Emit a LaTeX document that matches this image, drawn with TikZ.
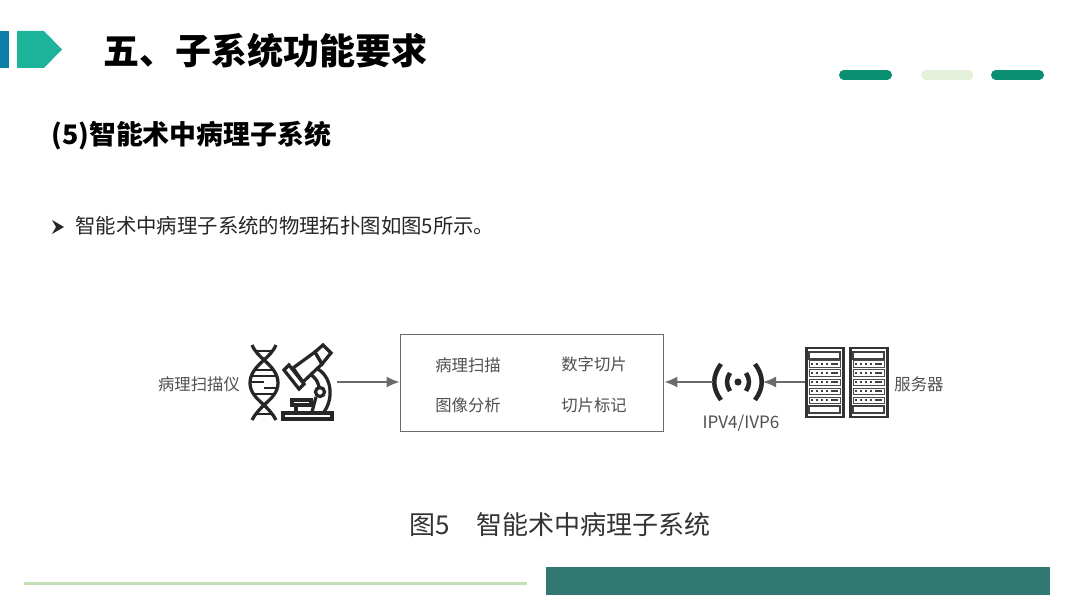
\documentclass[tikz,border=0pt]{standalone}
\usepackage{fontspec}
\setmainfont{Noto Sans CJK SC}
\usepackage{xcolor}
\usetikzlibrary{arrows.meta, positioning}
\definecolor{barblue}{HTML}{0B7FA6}
\definecolor{barteal}{HTML}{1DB39B}
\definecolor{pillgreen}{HTML}{0A9070}
\definecolor{pilllight}{HTML}{E4F0DA}
\definecolor{footline}{HTML}{C5DFB5}
\definecolor{footbar}{HTML}{317872}
\definecolor{figgray}{HTML}{505050}
\definecolor{linegray}{HTML}{6A6A6A}
\tikzstyle{label} = [text=figgray, font=\fontsize{9.3pt}{12pt}\selectfont, inner sep=0pt]
\tikzstyle{pill} = [line width=0.19cm, line cap=round]
\tikzstyle{icon} = [draw=black!85, line width=0.065cm]
\tikzstyle{rack} = [draw=black!80, line width=0.06cm, fill=white]
\tikzstyle{link} = [-{Latex[length=0.26cm,width=0.22cm]}, linegray, line width=0.036cm]
\begin{document}
\begin{tikzpicture}[x=0.02cm, y=-0.02cm]
    % page
    \useasboundingbox (0,0) rectangle (1080,608);
    \fill [white] (0,0) rectangle (1080,608);

    % header marks
    \fill [barblue] (0,31) rectangle (9,68);
    \fill [barteal] (17,31) -- (44,31) -- (62,49.5) -- (44,68) -- (17,68) -- cycle;
    \draw [pill, pillgreen] (843.75,75) -- (887.25,75);
    \draw [pill, pilllight] (925.75,75) -- (968.5,75);
    \draw [pill, pillgreen] (995.75,75) -- (1039.25,75);

    % headings
    \node [anchor=west, inner sep=0pt, font=\fontsize{20.5pt}{24pt}\selectfont\bfseries] (title) at (103,51) {五、子系统功能要求};
    \node [anchor=west, inner sep=0pt, font=\fontsize{15.3pt}{18pt}\selectfont\bfseries] (subtitle) at (51,136) {(5)智能术中病理子系统};
    \node [anchor=west, inner sep=0pt, font=\fontsize{11.6pt}{14pt}\selectfont, text=black!85] (bullet) at (75,226) {智能术中病理子系统的物理拓扑图如图5所示。};
    \fill [black!85] (52,220) -- (64,227) -- (52,234) -- (56,227) -- cycle;

    % main box
    \node [draw=linegray, line width=0.036cm, minimum width=5.26cm, minimum height=1.94cm, inner sep=0pt] (core) at (532,383) {};
    \node [label] (scan) at (468,365) {病理扫描};
    \node [label] (slice) at (594,364) {数字切片};
    \node [label] (analysis) at (468,405) {图像分析};
    \node [label] (mark) at (594,405) {切片标记};

    % side labels
    \node [label] (scanner) at (199,384) {病理扫描仪};
    \node [label] (server) at (919,384) {服务器};
    \node [label, font=\fontsize{9.7pt}{12pt}\selectfont] (proto) at (741,423) {IPV4/IVP6};
    \node [font=\fontsize{14.8pt}{18pt}\selectfont, text=black!80, inner sep=0pt] (caption) at (560,525) {图5\hspace{0.52cm}智能术中病理子系统};

    % dna
    \begin{scope}[icon]
        \draw (252,345) .. controls (255,352) and (260,356) .. (264,360) .. controls (272,367) and (278,374) .. (278,383) .. controls (278,392) and (272,398) .. (264,405) .. controls (260,409) and (255,414) .. (252,420);
        \draw (276,345) .. controls (273,352) and (268,356) .. (264,360) .. controls (256,367) and (250,374) .. (250,383) .. controls (250,392) and (256,398) .. (264,405) .. controls (268,409) and (273,414) .. (276,420);
        \foreach \yy/\xa/\xb in {351/256/272, 370/256/272, 376/252/276, 382/251/264, 388/264/277, 394/253/275, 414/256/272}
            \draw [line width=0.04cm] (\xa,\yy) -- (\xb,\yy);
    \end{scope}

    % microscope
    \begin{scope}[icon]
        \draw [fill=white] (284,370) -- (289,365) -- (304,384) -- (299,389) -- cycle;
        \draw [fill=white] (293,368) -- (315,352) -- (322,364) -- (303,382) -- cycle;
        \draw [fill=white] (315,352) -- (323,345) -- (331,353) -- (322,364) -- cycle;
        \draw (316,368) .. controls (332,376) and (334,398) .. (324,412);
        \draw (310,374) .. controls (316,378) and (318,382) .. (319,387);
        \draw (320,392) circle (4.5);
        \draw (316,397) -- (312,412);
        \draw [fill=white] (292,400) -- (311,400) -- (311,405) -- (292,405) -- cycle;
        \draw (296,405) -- (296,412);
        \draw [fill=white] (283,413) rectangle (332,419);
    \end{scope}

    % radio mark
    \coordinate (radio) at (738,382);
    \fill [black!85] (radio) circle (3.6);
    \begin{scope}[icon, line width=0.09cm]
        \draw (730,373) .. controls (726,379) and (726,385) .. (730,391);
        \draw (746,373) .. controls (750,379) and (750,385) .. (746,391);
        \draw (721,364) .. controls (712,376) and (712,388) .. (721,400);
        \draw (755,364) .. controls (764,376) and (764,388) .. (755,400);
    \end{scope}
    \coordinate (radioL) at (713,382);
    \coordinate (radioR) at (763,382);

    % racks
    \foreach \xx in {806,850} {
        \draw [rack] (\xx,348) rectangle +(37,69);
        \foreach \yy in {352,406}
            \draw [draw=black!75, line width=0.024cm] (\xx+3,\yy) rectangle +(31,7);
        \foreach \yy in {361,370,379,388,397} {
            \draw [draw=black!70, line width=0.02cm] (\xx+3,\yy) rectangle +(31,6.5);
            \draw [draw=black!75, line width=0.04cm, dash pattern=on 1.4pt off 1.4pt] (\xx+5,\yy+3.25) -- +(17,0);
            \draw [draw=black!75, line width=0.04cm] (\xx+25,\yy+3.25) -- +(7,0);
        }
    }
    \coordinate (racks) at (805,382);
    \coordinate (dnaout) at (337,382);

    % links
    \draw [link] (dnaout) -- (core.west |- dnaout);
    \draw [link] (radioL) -- (core.east |- radioL);
    \draw [link] (racks) -- (radioR);

    % footer
    \draw [footline, line width=0.06cm] (24,583) -- (527,583);
    \fill [footbar] (546,567) rectangle (1050,595);
\end{tikzpicture}
\end{document}
